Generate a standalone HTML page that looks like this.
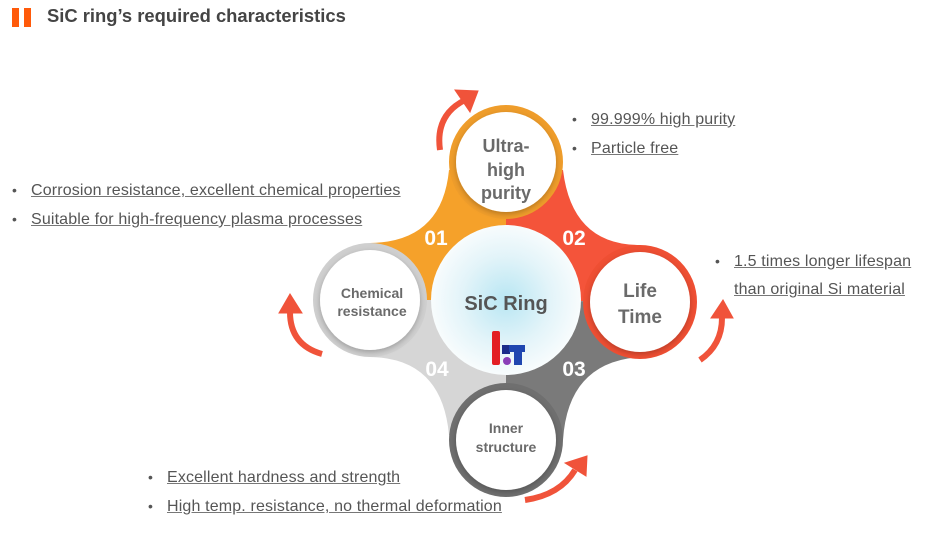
<!DOCTYPE html>
<html><head><meta charset="utf-8"><style>
body{margin:0;width:926px;height:535px;background:#fff;overflow:hidden;position:relative;font-family:"Liberation Sans","Noto Sans CJK KR",sans-serif}
.t{position:absolute;left:47px;top:5px;font-size:18.4px;font-weight:bold;color:#444}
.b1,.b2{position:absolute;top:8px;width:7px;height:19px;background:#ff5a0a}
.b1{left:12px}.b2{left:24px}
.l{position:absolute;font-size:16px;letter-spacing:0.15px;color:#555;line-height:28px;white-space:nowrap}
.l div span{text-decoration:underline;text-decoration-color:#777}
.l div:before{content:"•";display:inline-block;width:19px;font-size:14px}
.l div.n:before{content:""}
</style></head><body>
<div class="b1"></div><div class="b2"></div>
<div class="t">SiC ring’s required characteristics</div>
<div class="l" style="left:12px;top:176px"><div><span>Corrosion resistance, excellent chemical properties</span></div><div><span>Suitable for high-frequency plasma processes</span></div></div>
<div class="l" style="left:572px;top:105px"><div><span>99.999% high purity</span></div><div><span>Particle free</span></div></div>
<div class="l" style="left:715px;top:247px"><div><span>1.5 times longer lifespan</span></div><div class="n"><span>than original Si material</span></div></div>
<div class="l" style="left:148px;top:463px"><div><span>Excellent hardness and strength</span></div><div><span>High temp. resistance, no thermal deformation</span></div></div>
<svg width="926" height="535" style="position:absolute;left:0;top:0">
<defs>
<radialGradient id="c"><stop offset="0" stop-color="#b8e6f3"/><stop offset="0.6" stop-color="#e3f4f9"/><stop offset="1" stop-color="#f8fcfd"/></radialGradient>
<filter id="s"><feDropShadow dx="0" dy="2" stdDeviation="3" flood-opacity="0.25"/></filter>
</defs>
<path d="M506,300 L506,162 L563,170 Q572,245 640,245 L640,302 Z" fill="#f4543a"/>
<path d="M506,300 L640,302 L640,357 Q568,362 563,440 L506,440 Z" fill="#7a7a7a"/>
<path d="M506,300 L506,440 L449,435 Q442,358 370,357 L370,300 Z" fill="#d6d6d6"/>
<path d="M506,300 L370,300 L370,243 Q442,242 449,170 L506,162 Z" fill="#f5a12a"/>
<circle cx="506" cy="300" r="75" fill="url(#c)"/>
<circle cx="506" cy="162" r="57" fill="#ef9d2b"/><circle cx="506" cy="162" r="50" fill="#fff" filter="url(#s)"/>
<circle cx="640" cy="302" r="57" fill="#ef4f33"/><circle cx="640" cy="302" r="50" fill="#fff" filter="url(#s)"/>
<circle cx="506" cy="440" r="57" fill="#6f6f6f"/><circle cx="506" cy="440" r="50" fill="#fff" filter="url(#s)"/>
<circle cx="370" cy="300" r="57" fill="#cfcfcf"/><circle cx="370" cy="300" r="50" fill="#fff" filter="url(#s)"/>
<g font-weight="bold" fill="#fff" font-size="21" text-anchor="middle">
<text x="436" y="245">01</text><text x="574" y="245">02</text><text x="574" y="376">03</text><text x="437" y="376">04</text></g>
<g font-weight="bold" fill="#6a6a6a" text-anchor="middle">
<text x="506" y="152" font-size="18">Ultra-</text><text x="506" y="176" font-size="18">high</text><text x="506" y="199" font-size="18">purity</text>
<text x="640" y="297" font-size="19">Life</text><text x="640" y="323" font-size="19">Time</text>
<text x="506" y="433" font-size="14">Inner</text><text x="506" y="452" font-size="14">structure</text>
<text x="372" y="298" font-size="14">Chemical</text><text x="372" y="316" font-size="14">resistance</text>
<text x="506" y="310" font-size="20" fill="#555">SiC Ring</text></g>
<rect x="492" y="331" width="8" height="34" rx="2" fill="#e31e24"/>
<rect x="502" y="345" width="8" height="9" fill="#1b2c8a"/>
<rect x="509" y="345" width="16" height="7" fill="#1f46b0"/><rect x="514" y="345" width="8" height="20" fill="#1f46b0"/>
<circle cx="507" cy="361" r="4" fill="#8b3fb8"/>
<g fill="#f0533a" stroke="#f0533a">
<path d="M440,150 Q435,115 465,100" fill="none" stroke-width="6"/><polygon points="455,90 478,91 470,112"/>
<path d="M322,354 Q290,345 290,312" fill="none" stroke-width="6"/><polygon points="279,313 302,313 290,294"/>
<path d="M700,360 Q722,345 722,318" fill="none" stroke-width="6"/><polygon points="711,318 733,318 723,300"/>
<path d="M525,500 Q560,495 575,470" fill="none" stroke-width="6"/><polygon points="565,463 586,476 587,456"/>
</g>
</svg>
</body></html>
